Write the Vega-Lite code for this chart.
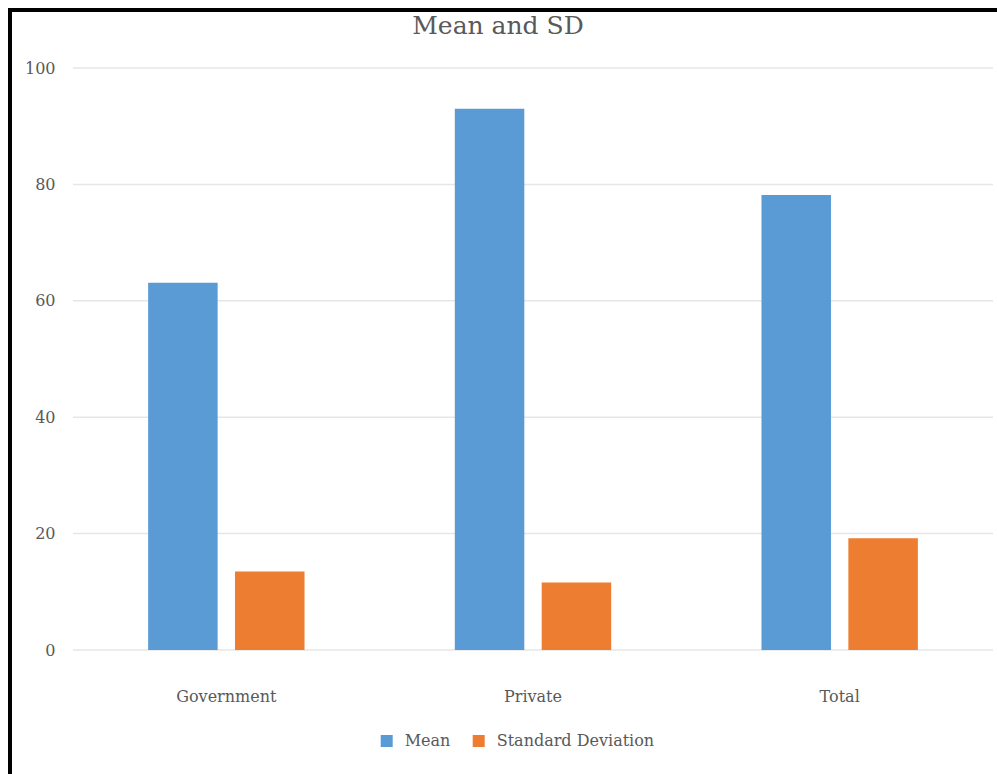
{
  "$schema": "https://vega.github.io/schema/vega-lite/v6.json",
  "width": 1046,
  "height": 800,
  "padding": {"left": 10, "top": 10, "right": 0, "bottom": 0},
  "background": "white",
  "title": {
    "text": "Mean and SD",
    "font": "DejaVu Serif",
    "fontSize": 25,
    "fontWeight": "normal",
    "color": "#595959",
    "anchor": "middle",
    "baseline": "alphabetic",
    "offset": -23,
    "dx": -35,
    "dy": 26
  },
  "config": {
    "view": {"stroke": "#000000", "strokeWidth": 4},
    "axis": {"labelFont": "DejaVu Serif", "labelFontSize": 16, "labelColor": "#595959"}
  },
  "datasets": {
    "bars": [
      {"group": "Government", "series": "Mean", "value": 63.1},
      {"group": "Government", "series": "Standard Deviation", "value": 13.5},
      {"group": "Private", "series": "Mean", "value": 93.0},
      {"group": "Private", "series": "Standard Deviation", "value": 11.6},
      {"group": "Total", "series": "Mean", "value": 78.2},
      {"group": "Total", "series": "Standard Deviation", "value": 19.2}
    ],
    "grid": [
      {"tick": 0}, {"tick": 20}, {"tick": 40}, {"tick": 60}, {"tick": 80}, {"tick": 100}
    ]
  },
  "layer": [
    {
      "data": {"name": "grid"},
      "mark": {"type": "rule", "color": "#e6e6e6", "strokeWidth": 1.5},
      "encoding": {
        "y": {
          "field": "tick",
          "type": "quantitative",
          "scale": {"domain": [-27.49, 109.966], "nice": false, "zero": false},
          "axis": {
            "values": [0, 20, 40, 60, 80, 100],
            "grid": false, "domain": false, "ticks": false, "tickSize": 0,
            "labelPadding": 0, "offset": -45, "title": null
          }
        },
        "x": {
          "datum": "Government",
          "type": "nominal",
          "bandPosition": 0,
          "scale": {"domain": ["Government", "Private", "Total"], "paddingInner": 0, "paddingOuter": 0.2054},
          "axis": {
            "domain": false, "ticks": false, "tickSize": 0, "labelPadding": 0,
            "labelAngle": 0, "offset": -122, "title": null, "grid": false
          }
        },
        "x2": {"datum": "Total", "bandPosition": 1}
      }
    },
    {
      "data": {"name": "bars"},
      "mark": {"type": "bar"},
      "encoding": {
        "x": {"field": "group", "type": "nominal", "sort": null},
        "xOffset": {
          "field": "series", "type": "nominal", "sort": null,
          "scale": {"domain": ["Mean", "Standard Deviation"], "paddingInner": 0.2, "paddingOuter": 0.865}
        },
        "y": {"field": "value", "type": "quantitative"},
        "y2": {"datum": 0},
        "color": {
          "field": "series",
          "type": "nominal",
          "scale": {"domain": ["Mean", "Standard Deviation"], "range": ["#5B9BD5", "#ED7D31"]},
          "legend": {
            "orient": "none",
            "legendX": 368.7,
            "legendY": 723,
            "direction": "horizontal",
            "title": null,
            "symbolType": "square",
            "symbolSize": 144,
            "symbolStrokeWidth": 0,
            "symbolOpacity": 1,
            "labelFont": "DejaVu Serif",
            "labelFontSize": 16,
            "labelColor": "#595959",
            "labelOffset": 10,
            "columnPadding": 20
          }
        }
      }
    }
  ]
}
